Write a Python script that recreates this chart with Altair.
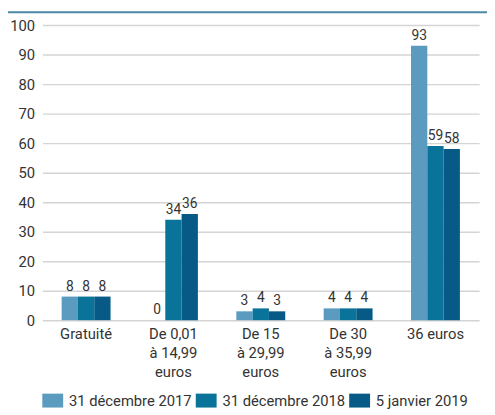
import altair as alt
import pandas as pd

categories = ["Gratuité", "De 0,01|à 14,99|euros", "De 15|à 29,99|euros", "De 30|à 35,99|euros", "36 euros"]
series = ["31 décembre 2017", "31 décembre 2018", "5 janvier 2019"]
v2017 = [8, 0, 3, 4, 93]
v2018 = [8, 34, 4, 4, 59]
v2019 = [8, 36, 3, 4, 58]
colors = ["#5b9bbf", "#0a7399", "#075a86"]
y_ticks = [0, 10, 20, 30, 40, 50, 60, 70, 80, 90, 100]

rows = []
for s, vals in zip(series, [v2017, v2018, v2019]):
    for c, v in zip(categories, vals):
        rows.append({"cat": c, "serie": s, "val": v})
df = pd.DataFrame(rows)

FONT = "Roboto"

x = alt.X("cat:N", sort=categories, title=None,
          scale=alt.Scale(paddingInner=0.44, paddingOuter=0.22),
          axis=alt.Axis(labelExpr="split(datum.label, '|')", labelAngle=0, ticks=False,
                        domain=False, labelFontSize=15, labelColor="#333333",
                        labelFont=FONT, labelPadding=7, labelLineHeight=19))
y = alt.Y("val:Q", title=None, scale=alt.Scale(domain=[0, 100]),
          axis=alt.Axis(values=y_ticks, domain=False, ticks=False, gridColor="#d4d4d4",
                        gridWidth=1.5, labelFontSize=15, labelColor="#333333",
                        labelFont=FONT, labelPadding=8))
color = alt.Color("serie:N", sort=series, title=None,
                  scale=alt.Scale(domain=series, range=colors),
                  legend=alt.Legend(orient="none", legendX=0, legendY=374, direction="horizontal",
                                    symbolType="M-1.5,-1L1.5,-1L1.5,1L-1.5,1Z", symbolSize=200,
                                    symbolStrokeWidth=0, symbolOpacity=1,
                                    labelFontSize=15, labelFont=FONT, labelColor="#333333",
                                    columnPadding=3, labelOffset=9, symbolOffset=3))
xo = alt.XOffset("serie:N", sort=series, scale=alt.Scale(paddingInner=0))

bars = alt.Chart(df).mark_bar().encode(x=x, y=y, color=color, xOffset=xo)
labels = alt.Chart(df).mark_text(dy=-10, fontSize=14, font=FONT, color="#333333").encode(
    x=x, y=y, xOffset=xo, text="val:Q")

top = pd.DataFrame({"a": [0]})
rule = alt.Chart(top).mark_rule(color="#4d87a6", strokeWidth=2, clip=False).encode(
    x=alt.value(-35), x2=alt.value(460), y=alt.value(-13))

chart = alt.layer(bars, labels, rule).properties(
    width=444, height=300,
    autosize=alt.AutoSizeParams(type="none"),
    padding={"left": 35, "top": 14, "right": 8, "bottom": 93},
).configure_view(stroke=None)

chart.save("out.html", embed_options={"renderer": "svg", "actions": False})
